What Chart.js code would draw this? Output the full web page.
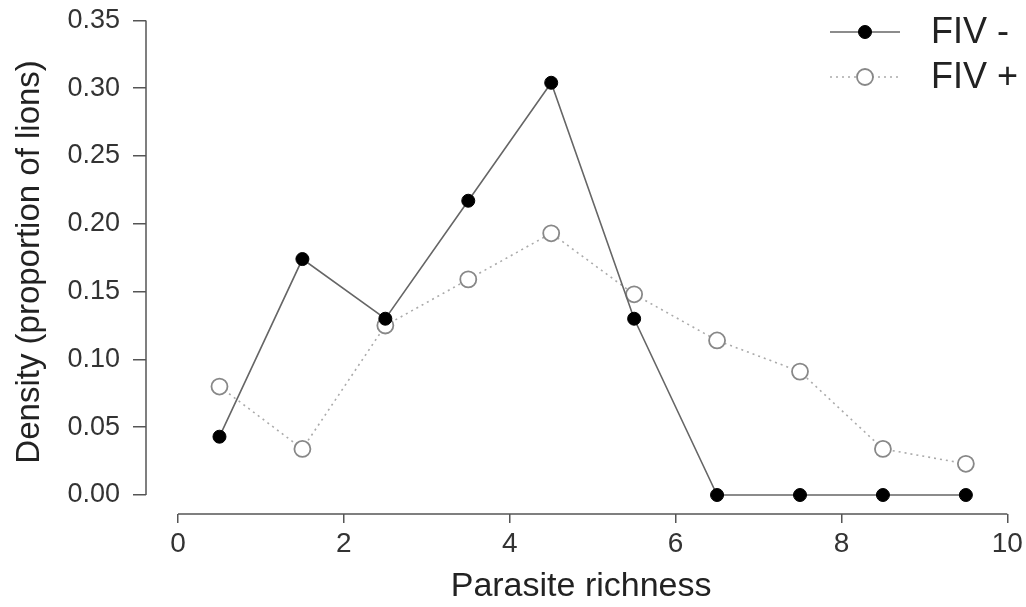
<!DOCTYPE html>
<html>
<head>
<meta charset="utf-8">
<script src="https://cdn.jsdelivr.net/npm/chart.js@4/dist/chart.umd.min.js"></script>
<style>
  body { margin: 0; background: #fff; }
  canvas { display: block; }
</style>
</head>
<body>
<canvas id="chart" width="1026" height="607"></canvas>
<script>
// parasite richness bins (midpoints)
const richness = [0.5, 1.5, 2.5, 3.5, 4.5, 5.5, 6.5, 7.5, 8.5, 9.5];
const fivNeg = [0.043, 0.174, 0.130, 0.217, 0.304, 0.130, 0, 0, 0, 0];
const fivPos = [0.080, 0.034, 0.125, 0.159, 0.193, 0.148, 0.114, 0.091, 0.034, 0.023];
const xTicks = [0, 2, 4, 6, 8, 10];
const yTicks = [0, 0.05, 0.10, 0.15, 0.20, 0.25, 0.30, 0.35];

const axisColor = '#555';
const textColor = '#333';
const font = 'Liberation Sans, Arial, sans-serif';

function toPoints(vals) {
  return richness.map((x, i) => ({ x: x, y: vals[i] }));
}

// R-style axes: line only between first and last tick
const rAxes = {
  id: 'rAxes',
  afterDraw(chart) {
    const ctx = chart.ctx;
    const xs = chart.scales.x, ys = chart.scales.y;
    ctx.save();
    ctx.strokeStyle = axisColor;
    ctx.lineWidth = 1.5;
    ctx.beginPath();
    ctx.moveTo(xs.getPixelForValue(xTicks[0]), xs.top);
    ctx.lineTo(xs.getPixelForValue(xTicks[xTicks.length - 1]), xs.top);
    ctx.moveTo(ys.right, ys.getPixelForValue(yTicks[0]));
    ctx.lineTo(ys.right, ys.getPixelForValue(yTicks[yTicks.length - 1]));
    ctx.stroke();
    ctx.restore();
  }
};

// legend in the top right corner, line + marker + text
const lineLegend = {
  id: 'lineLegend',
  afterDraw(chart) {
    const ctx = chart.ctx;
    const rows = [32, 77];
    chart.data.datasets.forEach((ds, i) => {
      const y = rows[i];
      ctx.save();
      ctx.strokeStyle = ds.borderColor;
      ctx.lineWidth = ds.borderWidth;
      ctx.setLineDash(ds.borderDash || []);
      ctx.beginPath();
      ctx.moveTo(830, y);
      ctx.lineTo(900, y);
      ctx.stroke();
      ctx.setLineDash([]);
      ctx.beginPath();
      ctx.arc(865, y, ds.pointRadius, 0, Math.PI * 2);
      ctx.fillStyle = ds.pointBackgroundColor;
      ctx.fill();
      ctx.lineWidth = ds.pointBorderWidth;
      ctx.strokeStyle = ds.pointBorderColor;
      ctx.stroke();
      ctx.fillStyle = '#222';
      ctx.font = '36px ' + font;
      ctx.textBaseline = 'middle';
      ctx.textAlign = 'left';
      ctx.fillText(ds.label, 931, y + 1);
      ctx.restore();
    });
  }
};

new Chart(document.getElementById('chart'), {
  type: 'scatter',
  data: {
    datasets: [
      {
        label: 'FIV -',
        data: toPoints(fivNeg),
        showLine: true,
        borderColor: '#666',
        borderWidth: 1.6,
        pointRadius: 6.5,
        pointBackgroundColor: '#000',
        pointBorderColor: '#000',
        pointBorderWidth: 1
      },
      {
        label: 'FIV +',
        data: toPoints(fivPos),
        showLine: true,
        borderColor: '#aaa',
        borderWidth: 1.6,
        borderDash: [2, 4],
        pointRadius: 8,
        pointBackgroundColor: '#fff',
        pointBorderColor: '#888',
        pointBorderWidth: 1.8
      }
    ]
  },
  options: {
    responsive: false,
    animation: false,
    devicePixelRatio: 1,
    layout: { padding: 0 },
    plugins: {
      legend: { display: false },
      tooltip: { enabled: false }
    },
    scales: {
      x: {
        type: 'linear',
        min: -0.386,
        max: 10.107,
        afterBuildTicks: s => { s.ticks = xTicks.map(v => ({ value: v })); },
        afterFit: s => { s.height = 93; s.paddingLeft = 0; s.paddingRight = 0; },
        border: { display: false },
        grid: { drawOnChartArea: false, drawTicks: true, tickLength: 9, color: axisColor, lineWidth: 1.5 },
        ticks: { padding: 4, color: textColor, font: { family: font, size: 28 } },
        title: {
          display: true,
          text: 'Parasite richness',
          color: '#222',
          font: { family: font, size: 34 },
          padding: { top: 0, bottom: 0 }
        }
      },
      y: {
        min: -0.014,
        max: 0.3578,
        afterBuildTicks: s => { s.ticks = yTicks.map(v => ({ value: v })); },
        afterFit: s => { s.width = 146; s.paddingTop = 0; s.paddingBottom = 0; },
        border: { display: false },
        grid: { drawOnChartArea: false, drawTicks: true, tickLength: 13, color: axisColor, lineWidth: 1.5 },
        ticks: {
          padding: 13,
          color: textColor,
          font: { family: font, size: 27 },
          callback: v => v.toFixed(2)
        },
        title: {
          display: true,
          text: 'Density (proportion of lions)',
          color: '#222',
          font: { family: font, size: 33 },
          padding: { top: 10, bottom: 0 }
        }
      }
    }
  },
  plugins: [rAxes, lineLegend]
});
</script>
</body>
</html>
